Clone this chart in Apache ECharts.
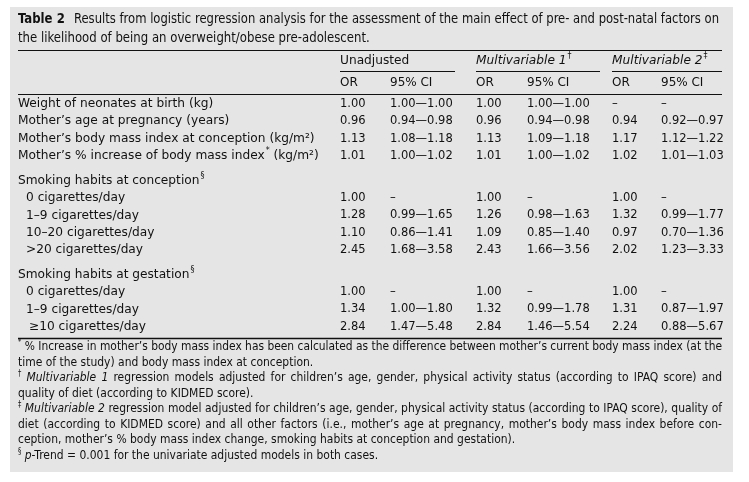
<!DOCTYPE html>
<html><head><meta charset="utf-8">
<script src="https://cdn.jsdelivr.net/npm/echarts@6/dist/echarts.min.js"></script>
<style>html,body{margin:0;padding:0;background:#fff}#c{width:749px;height:482px}</style>
</head><body><div id="c"></div>
<script>
// ---------- data ----------
const titleBold = 'Table 2';
const titleLine1 = 'Results from logistic regression analysis for the assessment of the main effect of pre- and post-natal factors on';
const titleLine2 = 'the likelihood of being an overweight/obese pre-adolescent.';
const groupNames = ['Unadjusted', 'Multivariable 1', 'Multivariable 2'];
const groupMarks = ['', '†', '‡'];
const subHeaders = ['OR', '95% CI'];

const rowLabels = [
  'Weight of neonates at birth (kg)',
  'Mother’s age at pregnancy (years)',
  'Mother’s body mass index at conception (kg/m²)',
  'Mother’s % increase of body mass index|*| (kg/m²)',
  null,
  'Smoking habits at conception|§|',
  '0 cigarettes/day',
  '1–9 cigarettes/day',
  '10–20 cigarettes/day',
  '>20 cigarettes/day',
  null,
  'Smoking habits at gestation|§|',
  '0 cigarettes/day',
  '1–9 cigarettes/day',
  '≥10 cigarettes/day'
];
const rowKind = ['item','item','item','item','gap','section','sub','sub','sub','sub','gap','section','sub','sub','sub'];

const unadjOR = [1.00, 0.96, 1.13, 1.01, null, null, 1.00, 1.28, 1.10, 2.45, null, null, 1.00, 1.34, 2.84];
const unadjLo = [1.00, 0.94, 1.08, 1.00, null, null, '–', 0.99, 0.86, 1.68, null, null, '–', 1.00, 1.47];
const unadjHi = [1.00, 0.98, 1.18, 1.02, null, null, '–', 1.65, 1.41, 3.58, null, null, '–', 1.80, 5.48];
const mv1OR   = [1.00, 0.96, 1.13, 1.01, null, null, 1.00, 1.26, 1.09, 2.43, null, null, 1.00, 1.32, 2.84];
const mv1Lo   = [1.00, 0.94, 1.09, 1.00, null, null, '–', 0.98, 0.85, 1.66, null, null, '–', 0.99, 1.46];
const mv1Hi   = [1.00, 0.98, 1.18, 1.02, null, null, '–', 1.63, 1.40, 3.56, null, null, '–', 1.78, 5.54];
const mv2OR   = ['–', 0.94, 1.17, 1.02, null, null, 1.00, 1.32, 0.97, 2.02, null, null, 1.00, 1.31, 2.24];
const mv2Lo   = ['–', 0.92, 1.12, 1.01, null, null, '–', 0.99, 0.70, 1.23, null, null, '–', 0.87, 0.88];
const mv2Hi   = ['–', 0.97, 1.22, 1.03, null, null, '–', 1.77, 1.36, 3.33, null, null, '–', 1.97, 5.67];

const footnotes = [
  [{t:'*',sup:true}, '% Increase in mother’s body mass index has been calculated as the difference between mother’s current body mass index (at the'],
  ['time of the study) and body mass index at conception.'],
  [{t:'†',sup:true}, {t:'Multivariable',it:true}, {t:'1',it:true}, 'regression models adjusted for children’s age, gender, physical activity status (according to IPAQ score) and'],
  ['quality of diet (according to KIDMED score).'],
  [{t:'‡',sup:true}, {t:'Multivariable',it:true}, {t:'2',it:true}, 'regression model adjusted for children’s age, gender, physical activity status (according to IPAQ score), quality of'],
  ['diet (according to KIDMED score) and all other factors (i.e., mother’s age at pregnancy, mother’s body mass index before con-'],
  ['ception, mother’s % body mass index change, smoking habits at conception and gestation).'],
  [{t:'§',sup:true}, [{t:'p',it:true},{t:'-Trend'}], '= 0.001 for the univariate adjusted models in both cases.']
];
const footJustify = [true,false,true,false,true,true,false,false];

// ---------- layout / style ----------
const BODY = '"DejaVu Sans", Verdana, sans-serif';
const NARROW = '"DejaVu Sans Condensed", "Liberation Sans Narrow", sans-serif';
const labSize = 12.2, numSize = 11.5;
const fLab = labSize + 'px ' + BODY;
const fLabIt = 'italic ' + labSize + 'px ' + BODY;
const fNum = numSize + 'px ' + BODY;
const fSub = '12px ' + BODY;
const fSup = '8px ' + BODY;
const titleSize = 14, footSize = 13;
const titleSX = 0.93, footSX = 0.92;

const L = 18, R = 722;
const colX = [340, 390, 476, 527, 612, 661];
const groupSpan = [[340, 455], [476, 600], [612, 722]];

const ctx = document.createElement('canvas').getContext('2d');
function tw(s, font) { ctx.font = font; return ctx.measureText(s).width; }

const els = [];
function T(s, x, y, font, sx) {
  els.push({type:'text', silent:true, x:x, y:y, scaleX:sx||1,
    style:{text:s, x:0, y:0, font:font, fill:'#111', textAlign:'left', textVerticalAlign:'middle'}});
}
function Ln(x1, y, x2, w) {
  els.push({type:'line', silent:true, shape:{x1:x1, y1:y, x2:x2, y2:y}, style:{stroke:'#111', lineWidth:w||1}});
}
function fmt(v) { return typeof v === 'number' ? v.toFixed(2) : v; }

// background
els.push({type:'rect', silent:true, shape:{x:10, y:7, width:723, height:465}, style:{fill:'#e5e5e5'}});

// word layout with optional justification
function layoutWords(tokens, x0, x1, y, size, justify, family, sx) {
  const fR = size + 'px ' + family, fI = 'italic ' + size + 'px ' + family, fS = Math.round(size*0.65) + 'px ' + family;
  const words = [];
  tokens.forEach(tok => {
    if (typeof tok === 'string') tok.split(' ').forEach(w => { if (w) words.push([{t:w}]); });
    else if (Array.isArray(tok)) words.push(tok);
    else words.push([tok]);
  });
  const fontOf = p => p.sup ? fS : (p.it ? fI : fR);
  const raw = words.map(w => w.reduce((a, p) => a + tw(p.t, fontOf(p)), 0));
  const sp = tw(' ', fR);
  let s = sx;
  if (justify) {
    const natural = (raw.reduce((a, b) => a + b, 0) + sp * (words.length - 1)) * s;
    if (natural > x1 - x0) s = s * (x1 - x0) / natural;
  }
  const widths = raw.map(w => w * s);
  const sum = widths.reduce((a, b) => a + b, 0);
  let gap = sp * s;
  if (justify && words.length > 1) gap = (x1 - x0 - sum) / (words.length - 1);
  let x = x0;
  words.forEach((w, i) => {
    let px = x;
    w.forEach(p => {
      T(p.t, px, p.sup ? y - size*0.3 : y, fontOf(p), s);
      px += tw(p.t, fontOf(p)) * s;
    });
    x += widths[i] + gap;
  });
}

// title
T(titleBold, L, 19, 'bold ' + titleSize + 'px ' + NARROW, titleSX);
layoutWords([titleLine1], 74, 719, 19, titleSize, true, NARROW, titleSX);
layoutWords([titleLine2], L, R, 38, titleSize, false, NARROW, titleSX);

// header
Ln(L, 50.5, R, 1);
groupNames.forEach((g, i) => {
  const f = i === 0 ? fLab : fLabIt;
  T(g, groupSpan[i][0], 61, f);
  if (groupMarks[i]) T(groupMarks[i], groupSpan[i][0] + tw(g, f) + 1, 56, fSup);
  Ln(groupSpan[i][0], 71.5, groupSpan[i][1], 1);
  T(subHeaders[0], colX[i*2], 83, fSub);
  T(subHeaders[1], colX[i*2+1], 83, fSub);
});
Ln(L, 94.5, R, 1);

// body rows
const rowH = 17.3, gapH = 7.6;
let y = 104;
const ORs = [unadjOR, mv1OR, mv2OR], Los = [unadjLo, mv1Lo, mv2Lo], His = [unadjHi, mv1Hi, mv2Hi];
rowLabels.forEach((lab, r) => {
  if (rowKind[r] === 'gap') { y += gapH; return; }
  const x = rowKind[r] === 'sub' ? (lab.startsWith('≥') ? 29 : 26) : L;
  const parts = lab.split('|');
  let px = x;
  parts.forEach((p, k) => {
    if (!p) return;
    if (k % 2 === 1) { T(p, px + 1, y - 5, fSup); px += tw(p, fSup) + 1; }
    else { T(p, px, y, fLab); px += tw(p, fLab); }
  });
  for (let g = 0; g < 3; g++) {
    const o = ORs[g][r], lo = Los[g][r], hi = His[g][r];
    if (o !== null) T(fmt(o), colX[g*2], y, fNum);
    if (lo !== null) T(typeof lo === 'number' ? fmt(lo) + '—' + fmt(hi) : lo, colX[g*2+1], y, fNum);
  }
  y += rowH;
});
Ln(L, 338.5, R, 1.3);

// footnotes
footnotes.forEach((tokens, i) => {
  layoutWords(tokens, L, R, 347 + i * 15.5, footSize, footJustify[i], NARROW, footSX);
});

const chart = echarts.init(document.getElementById('c'), null, {renderer:'canvas'});
chart.setOption({animation:false, backgroundColor:'#ffffff', graphic:{elements:els}});
</script>
</body></html>
